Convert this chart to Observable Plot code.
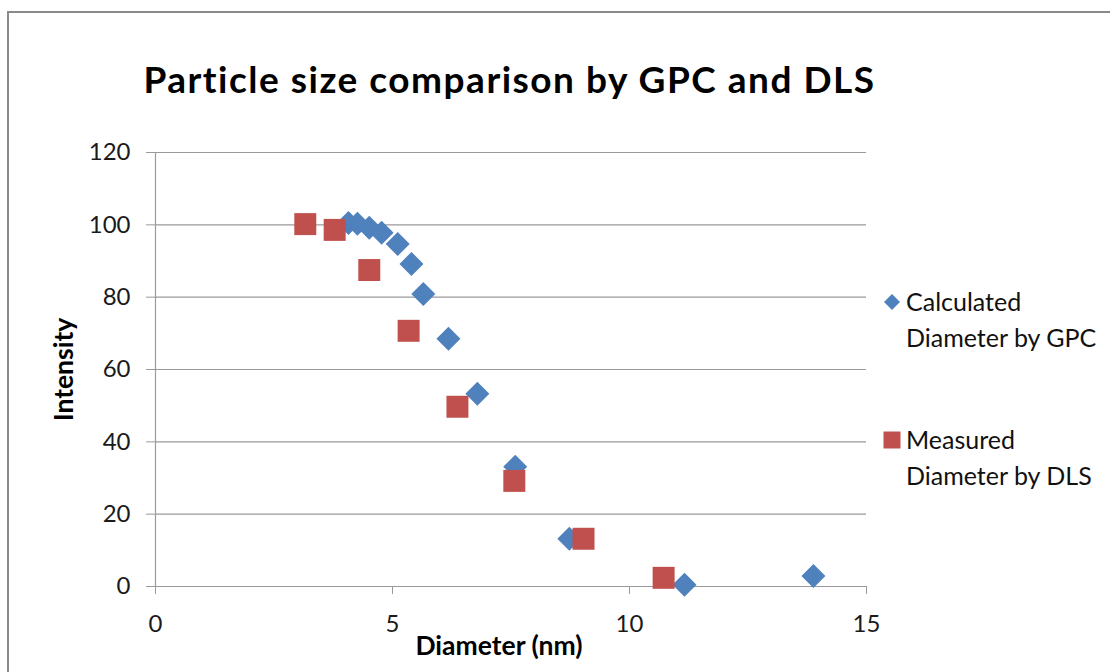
<!DOCTYPE html>
<html>
<head>
<meta charset="utf-8">
<script src="https://cdn.jsdelivr.net/npm/d3@7"></script>
<script src="https://cdn.jsdelivr.net/npm/@observablehq/plot@0.6"></script>
<style>
  html, body { margin: 0; padding: 0; background: #fff; overflow: hidden; }
  #page { position: relative; width: 1110px; height: 672px; overflow: hidden; font-family: Lato, "Open Sans", sans-serif; color: #000; }
  #frame { position: absolute; left: 7px; top: 11px; width: 1300px; height: 900px; border: 2px solid #8a8a8a; box-sizing: border-box; }
  #chart { position: absolute; left: 0; top: 0; }
  #title { position: absolute; left: 0; top: 60px; width: 1019px; text-align: center; font-size: 37px; line-height: 37px; letter-spacing: 1.5px; font-weight: bold; white-space: nowrap; }
  .legend-item { position: absolute; left: 880px; display: flex; align-items: flex-start; }
  .legend-item svg { width: 24px; height: 36px; flex: none; margin-right: 2px; }
  .legend-item div { font-size: 25px; line-height: 36px; color: #111; white-space: nowrap; }
</style>
</head>
<body>
<div id="page">
  <div id="frame"></div>
  <div id="chart"></div>
  <div id="title"></div>
  <div id="legend"></div>
</div>
<script>
// Calculated particle diameters (GPC) and their intensities
const gpcDiameter  = [4.07, 4.26, 4.51, 4.77, 5.11, 5.40, 5.65, 6.18, 6.79, 7.59, 8.73, 11.16, 13.88];
const gpcIntensity = [100.5, 100.3, 99.2, 97.8, 94.7, 89.2, 80.9, 68.5, 53.3, 33.1, 13.2, 0.5, 2.9];

// Measured particle diameters (DLS) and their intensities
const dlsDiameter  = [3.16, 3.78, 4.51, 5.34, 6.37, 7.57, 9.03, 10.72];
const dlsIntensity = [100.2, 98.6, 87.5, 70.7, 49.7, 29.2, 13.2, 2.4];

const xTicks = [0, 5, 10, 15];
const yTicks = [0, 20, 40, 60, 80, 100, 120];

const seriesNames = ["Calculated Diameter by GPC", "Measured Diameter by DLS"];
const seriesColors = ["#4F81BD", "#C0504D"];

const titleText = "Particle size comparison by GPC and DLS";
const xLabel = "Diameter (nm)";
const yLabel = "Intensity";

const gpc = gpcDiameter.map((d, i) => ({diameter: d, intensity: gpcIntensity[i]}));
const dls = dlsDiameter.map((d, i) => ({diameter: d, intensity: dlsIntensity[i]}));

const gridColor = "#9a9a9a";

const chart = Plot.plot({
  width: 1110,
  height: 672,
  marginLeft: 155,
  marginRight: 244,
  marginTop: 152,
  marginBottom: 86,
  x: {domain: [0, 15]},
  y: {domain: [0, 120]},
  style: {fontFamily: "Lato, 'Open Sans', sans-serif", background: "transparent", color: "#1a1a1a", overflow: "visible"},
  marks: [
    Plot.ruleY(yTicks, {stroke: gridColor, strokeWidth: 1.2}),
    Plot.ruleX([0], {stroke: gridColor, strokeWidth: 1.2}),
    Plot.axisY({ticks: yTicks, tickSize: 9, tickPadding: 16, fontSize: 24, label: null, stroke: gridColor, fill: "#1a1a1a"}),
    Plot.axisX({ticks: xTicks, tickSize: 8, tickPadding: 20, fontSize: 24, label: null, stroke: gridColor, fill: "#1a1a1a"}),
    Plot.dot(gpc, {x: "diameter", y: "intensity", symbol: "diamond2", r: 10.8, fill: seriesColors[0], stroke: "none"}),
    Plot.dot(dls, {x: "diameter", y: "intensity", symbol: "square", r: 12.4, fill: seriesColors[1], stroke: "none"}),
    Plot.text([yLabel], {text: d => d, frameAnchor: "left", textAnchor: "middle", lineAnchor: "middle", dx: -91, rotate: -90, fontSize: 26.5, fontWeight: "bold", fill: "#000"}),
    Plot.text([xLabel], {text: d => d, frameAnchor: "bottom", textAnchor: "middle", lineAnchor: "middle", dx: -12, dy: 60, fontSize: 26.5, fontWeight: "bold", fill: "#000"})
  ]
});
document.getElementById("chart").appendChild(chart);
document.getElementById("title").textContent = titleText;

// Legend on the right: a marker followed by the series name on two lines
const legend = document.getElementById("legend");
const legendTops = [283, 421];
seriesNames.forEach((name, i) => {
  const item = document.createElement("div");
  item.className = "legend-item";
  item.style.top = legendTops[i] + "px";
  const ns = "http://www.w3.org/2000/svg";
  const svg = document.createElementNS(ns, "svg");
  svg.setAttribute("viewBox", "0 0 24 36");
  const p = document.createElementNS(ns, "path");
  p.setAttribute("d", i === 0 ? "M12,11 L20,19 L12,27 L4,19 Z" : "M3.5,10.5 h17 v17 h-17 Z");
  p.setAttribute("fill", seriesColors[i]);
  svg.appendChild(p);
  const words = name.split(" ");
  const label = document.createElement("div");
  label.innerHTML = words[0] + "<br>" + words.slice(1).join(" ");
  item.appendChild(svg);
  item.appendChild(label);
  legend.appendChild(item);
});
</script>
</body>
</html>
